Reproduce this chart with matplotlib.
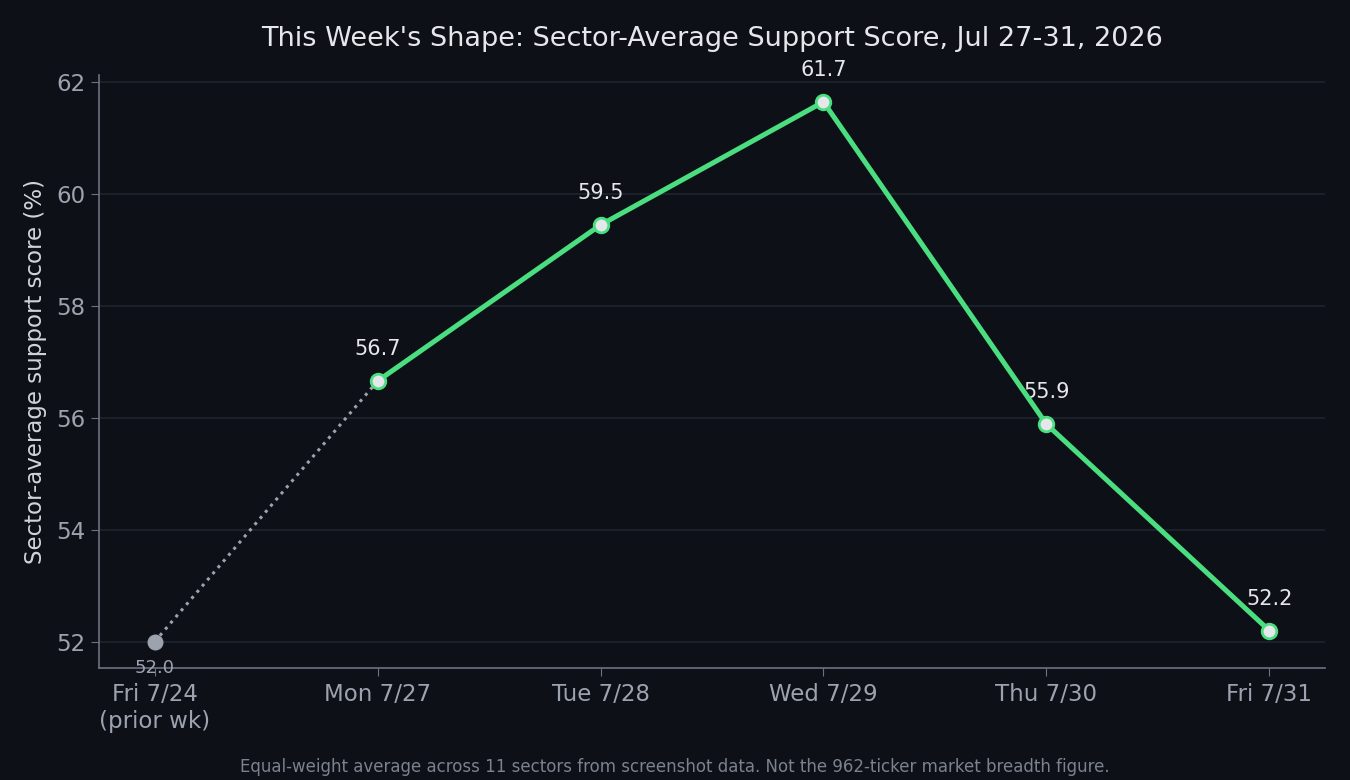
import matplotlib
matplotlib.use('Agg')
import matplotlib.pyplot as plt

# data
prior_label = 'Fri 7/24\n(prior wk)'
prior_value = 52.0
days = ['Mon 7/27', 'Tue 7/28', 'Wed 7/29', 'Thu 7/30', 'Fri 7/31']
scores = [56.66, 59.45, 61.65, 55.89, 52.2]
score_labels = ['56.7', '59.5', '61.7', '55.9', '52.2']

BG = '#0d1017'
GREEN = '#4ade80'
GRAY = '#9ca3af'
TEXT = '#e5e7eb'

fig = plt.figure(figsize=(13.5, 7.8), dpi=100, facecolor=BG)
ax = fig.add_axes([0.0733, 0.1436, 0.9082, 0.7602], facecolor=BG)

xs = list(range(1, len(days) + 1))

# dotted bridge from prior week to Monday
ax.plot([0, 1], [prior_value, scores[0]], linestyle=':', color=GRAY,
        linewidth=2.2, zorder=2)
ax.plot([0], [prior_value], 'o', color=GRAY, markersize=10.5, zorder=3)
ax.annotate(f'{prior_value:.1f}', (0, prior_value), xytext=(0, -19),
            textcoords='offset points', ha='center', va='center',
            color=GRAY, fontsize=13)

ax.plot(xs, scores, color=GREEN, linewidth=3.6, marker='o', markersize=10.5,
        markerfacecolor=TEXT, markeredgecolor=GREEN, markeredgewidth=2,
        zorder=4)
for x, y, lab in zip(xs, scores, score_labels):
    ax.annotate(lab, (x, y), xytext=(0, 23), textcoords='offset points',
                ha='center', va='center', color=TEXT, fontsize=15)

ax.set_xlim(-0.25, 5.25)
ax.set_ylim(51.53, 62.13)
ax.set_xticks(range(len(days) + 1))
ax.set_xticklabels([prior_label] + days)
ax.set_yticks([52, 54, 56, 58, 60, 62])

ax.grid(axis='y', color='#1f2530', linewidth=1.2)
ax.set_axisbelow(True)
for side in ['top', 'right']:
    ax.spines[side].set_visible(False)
for side in ['left', 'bottom']:
    ax.spines[side].set_color('#6b7280')
    ax.spines[side].set_linewidth(1.2)
ax.tick_params(colors='#6b7280', labelcolor=GRAY, labelsize=16.5, length=6)
ax.tick_params(axis='x', pad=5)

ax.set_ylabel('Sector-average support score (%)', color='#d1d5db',
              fontsize=16.5, labelpad=7)
ax.set_title("This Week's Shape: Sector-Average Support Score, Jul 27-31, 2026",
             color=TEXT, fontsize=19.5, pad=21)

fig.text(0.5, 0.017, 'Equal-weight average across 11 sectors from screenshot data. '
         'Not the 962-ticker market breadth figure.',
         ha='center', va='center', color='#7b828e', fontsize=12)

fig.savefig('out.png', dpi=100, facecolor=BG)
